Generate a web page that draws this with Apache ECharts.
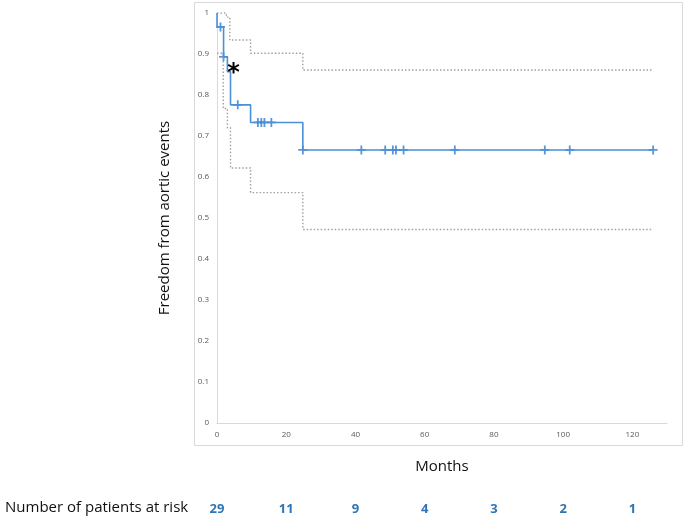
<!DOCTYPE html>
<html>
<head>
<meta charset="utf-8">
<script src="https://cdn.jsdelivr.net/npm/echarts@6/dist/echarts.min.js"></script>
<style>
  html, body { margin: 0; padding: 0; background: #fff; }
  #chart { width: 685px; height: 516px; }
</style>
</head>
<body>
<div id="chart"></div>
<script>
// Kaplan-Meier estimate (months, survival)
const kmTimes = [0, 0, 1.9, 3, 3.9, 9.7, 24.8, 126];
const kmSurv = [1, 0.966, 0.893, 0.857, 0.776, 0.733, 0.666, 0.666];

// 95% CI bounds
const upperTimes = [0, 2.7, 3.7, 9.7, 24.8, 126];
const upperSurv = [1, 0.99, 0.934, 0.902, 0.861, 0.861];
const lowerTimes = [0, 1.8, 3, 3.9, 9.7, 24.8, 126];
const lowerSurv = [0.902, 0.767, 0.72, 0.622, 0.562, 0.472, 0.472];

// censored observations
const censorTimes = [1, 1.9, 6, 11.8, 12.8, 13.7, 15.7, 24.8, 41.7, 48.6, 50.8, 51.7, 53.9, 68.7, 94.7, 101.9, 126];
const censorSurv = [0.966, 0.893, 0.776, 0.733, 0.733, 0.733, 0.733, 0.666, 0.666, 0.666, 0.666, 0.666, 0.666, 0.666, 0.666, 0.666, 0.666];

// number at risk at 0, 20, ... 120 months
const riskMonths = [0, 20, 40, 60, 80, 100, 120];
const atRisk = [29, 11, 9, 4, 3, 2, 1];

const zip = (xs, ys) => xs.map((x, i) => [x, ys[i]]);

const FONT = "Open Sans";
const plus = "path://M4,0h2v10h-2z M0,4h10v2h-10z";

let myChart = echarts.init(document.getElementById("chart"));
let option = {
  backgroundColor: "#fff",
  animation: false,
  textStyle: { fontFamily: FONT },
  grid: { left: 217, top: 13, right: 18, bottom: 93 },
  graphic: [
    {
      type: "rect",
      shape: { x: 194.5, y: 2.5, width: 488, height: 443 },
      style: { fill: "none", stroke: "#d9d9d9", lineWidth: 1 },
      silent: true,
    },
    {
      type: "text",
      left: 5,
      top: 500,
      style: {
        text: "Number of patients at risk",
        font: "15px 'Open Sans'",
        fill: "#111",
      },
    },
  ],
  xAxis: [
    {
      type: "value",
      min: 0,
      max: 130,
      interval: 20,
      name: "Months",
      nameLocation: "middle",
      nameGap: 36,
      nameTextStyle: { fontSize: 15, color: "#111", fontFamily: FONT },
      axisLine: { show: true, lineStyle: { color: "#d9d9d9", width: 1 } },
      axisTick: { show: false },
      splitLine: { show: false },
      axisLabel: {
        fontSize: 8,
        color: "#595959",
        margin: 8,
        showMaxLabel: false,
      },
    },
    {
      type: "value",
      position: "bottom",
      min: 0,
      max: 130,
      interval: 20,
      offset: 72,
      axisLine: { show: false },
      axisTick: { show: false },
      splitLine: { show: false },
      axisLabel: {
        fontSize: 13,
        fontWeight: "bold",
        color: "#2e75b6",
        margin: 8,
        showMaxLabel: false,
        formatter: (v) => {
          const i = riskMonths.indexOf(v);
          return i >= 0 ? String(atRisk[i]) : "";
        },
      },
    },
  ],
  yAxis: {
    type: "value",
    min: 0,
    max: 1,
    interval: 0.1,
    name: "Freedom from aortic events",
    nameLocation: "middle",
    nameRotate: 90,
    nameGap: 45,
    nameTextStyle: { fontSize: 15, color: "#111", fontFamily: FONT },
    axisLine: { show: true, lineStyle: { color: "#d9d9d9", width: 1 } },
    axisTick: { show: false },
    splitLine: { show: false },
    axisLabel: { fontSize: 8, color: "#595959", margin: 8 },
  },
  series: [
    {
      name: "upper",
      type: "line",
      step: "end",
      symbol: "none",
      lineStyle: { color: "#a0a0a0", width: 1.4, type: [1.5, 2] },
      data: zip(upperTimes, upperSurv),
    },
    {
      name: "lower",
      type: "line",
      step: "end",
      symbol: "none",
      lineStyle: { color: "#a0a0a0", width: 1.4, type: [1.5, 2] },
      data: zip(lowerTimes, lowerSurv),
    },
    {
      name: "KM",
      type: "line",
      step: "end",
      symbol: "none",
      lineStyle: { color: "#4a90d9", width: 1.6 },
      data: zip(kmTimes, kmSurv),
      markPoint: {
        symbol: "circle",
        symbolSize: 1,
        itemStyle: { color: "rgba(0,0,0,0)" },
        label: {
          show: true,
          position: "inside",
          formatter: "*",
          fontSize: 24,
          fontWeight: "bold",
          color: "#000",
          fontFamily: "DejaVu Sans",
          offset: [0, 6],
        },
        data: [{ coord: [4.8, 0.866] }],
      },
    },
    {
      name: "censored",
      type: "scatter",
      symbol: plus,
      symbolSize: 9,
      itemStyle: { color: "#2e7bcf" },
      data: zip(censorTimes, censorSurv),
    },
  ],
};
myChart.setOption(option);
</script>
</body>
</html>
